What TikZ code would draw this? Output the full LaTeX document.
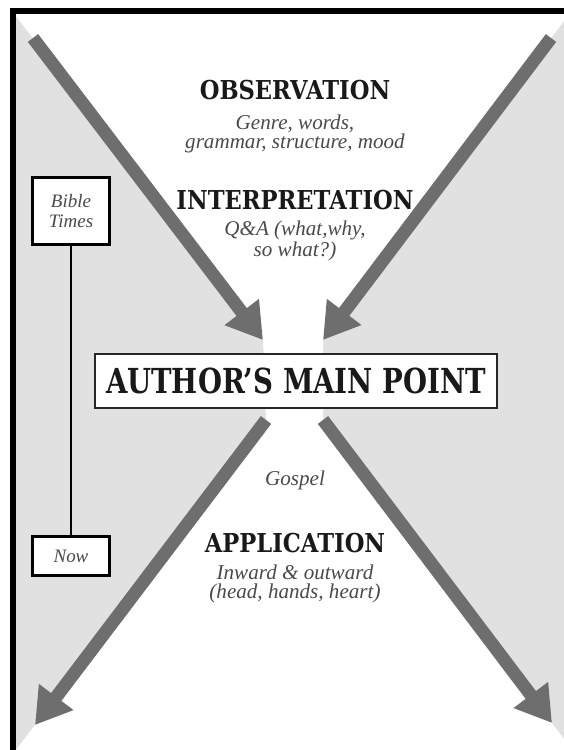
\documentclass[tikz,border=0pt]{standalone}
\usepackage{fontspec}
\newfontfamily\slabfont{DejaVu Serif}[FakeStretch=0.87]
\newfontfamily\pointfont{DejaVu Serif}[FakeStretch=0.8]
\newfontfamily\bookfont{Liberation Serif}
\usetikzlibrary{arrows.meta}
\definecolor{bggray}{HTML}{E1E1E1}
\definecolor{arrowgray}{HTML}{6E6E6E}
\definecolor{notegray}{HTML}{4A4A4A}

\begin{document}
\begin{tikzpicture}[x=0.025cm, y=-0.025cm]
    \tikzstyle{heading}=[font=\slabfont\bfseries\fontsize{18.5}{20}\selectfont, text=black!90, inner sep=0pt]
    \tikzstyle{note}=[font=\bookfont\itshape\fontsize{15}{13.5}\selectfont, text=notegray, align=center, inner sep=0pt]
    \tikzstyle{era}=[draw=black, line width=2.2pt, fill=white, minimum width=55pt, align=center, font=\bookfont\itshape\fontsize{13.5}{14.5}\selectfont, text=notegray]
    \tikzstyle{bigarrow}=[arrowgray, line width=9.2pt, -{Triangle[length=25pt, width=29pt]}]

    \useasboundingbox (0,0) rectangle (564,750);

    % background: grey sides, white hourglass
    \fill[bggray] (16,14) rectangle (564,750);
    \fill[white] (16,16) -- (16,14) -- (564,14) -- (564,21) -- (323,340) -- (323,420)
        -- (564,739) -- (564,750) -- (16,750) -- (266,420) -- (263,340) -- cycle;

    % frame
    \draw[black, line width=4.5pt] (13,750) -- (13,11) -- (564,11);

    % arrow ends
    \coordinate (tlstart) at (33,38);
    \coordinate (trstart) at (551,38);
    \coordinate (tltip) at (263,340);
    \coordinate (trtip) at (323,340);
    \coordinate (blstart) at (266,420);
    \coordinate (brstart) at (323,420);
    \coordinate (bltip) at (35,725);
    \coordinate (brtip) at (552,723);

    \draw[bigarrow] (tlstart) -- (tltip);
    \draw[bigarrow] (trstart) -- (trtip);
    \draw[bigarrow] (blstart) -- (bltip);
    \draw[bigarrow] (brstart) -- (brtip);

    \node[heading] (obs) at (295,90) {OBSERVATION};
    \node[note] (obsnote) at (295,134) {Genre, words,\\grammar, structure, mood};
    \node[heading] (interp) at (295,200) {INTERPRETATION};
    \node[note] (interpnote) at (295,241) {Q\&A (what,why,\\so what?)};

    \node[draw=black!85, line width=1.4pt, fill=white, minimum width=286pt, minimum height=38pt,
          font=\pointfont\bfseries\fontsize{24.5}{26}\selectfont, text=black!90] (main) at (296,381) {AUTHOR’S MAIN POINT};

    \node[note] (gospel) at (295,480) {Gospel};
    \node[heading] (app) at (295,543) {APPLICATION};
    \node[note] (appnote) at (295,584) {Inward \& outward\\(head, hands, heart)};

    \node[era, minimum height=48pt] (then) at (71,211) {Bible\\Times};
    \node[era, minimum height=28pt] (now) at (71,556) {Now};
    \draw[black, line width=2pt] (then) -- (now);
\end{tikzpicture}
\end{document}
